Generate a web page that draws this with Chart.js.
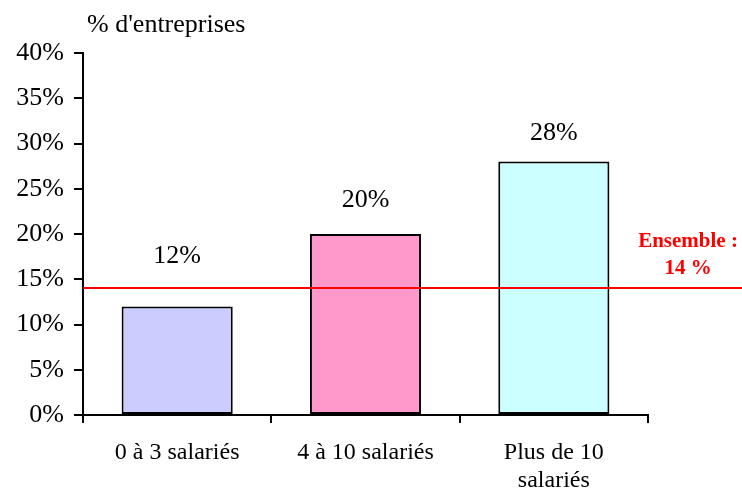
<!DOCTYPE html>
<html>
<head>
<meta charset="utf-8">
<script src="https://cdn.jsdelivr.net/npm/chart.js@4"></script>
<style>
  html,body{margin:0;padding:0;background:#fff;}
  #wrap{width:742px;height:490px;}
</style>
</head>
<body>
<div id="wrap"><canvas id="chart" width="742" height="490"></canvas></div>
<script>
// data
const categories = ['0 à 3 salariés', '4 à 10 salariés', ['Plus de 10', 'salariés']];
const values = [12, 20, 28];
const ensemble = 14;
const yTicks = [0, 5, 10, 15, 20, 25, 30, 35, 40];

// style
const barColors = ['#CCCCFF', '#FF99CC', '#CCFFFF'];
const labelOffsets = [50, 34, 28];
const serif = '"Liberation Serif", "Times New Roman", serif';

const overlay = {
  id: 'overlay',
  afterDatasetsDraw(chart){
    const {ctx, scales:{x, y}, chartArea} = chart;
    ctx.save();
    // axis title
    ctx.fillStyle = '#000';
    ctx.font = '26px ' + serif;
    ctx.textAlign = 'left';
    ctx.textBaseline = 'middle';
    ctx.fillText("% d'entreprises", 87, 25);
    // value labels
    ctx.textAlign = 'center';
    values.forEach((v, i) => {
      ctx.fillText(v + '%', x.getPixelForValue(i), y.getPixelForValue(v) - labelOffsets[i]);
    });
    // ensemble line
    const ly = Math.round(y.getPixelForValue(ensemble));
    ctx.strokeStyle = '#FF0000';
    ctx.lineWidth = 2;
    ctx.beginPath();
    ctx.moveTo(chartArea.left, ly);
    ctx.lineTo(chart.width, ly);
    ctx.stroke();
    ctx.fillStyle = '#FF0000';
    ctx.font = 'bold 21px ' + serif;
    ctx.fillText('Ensemble :', 688, 242);
    ctx.fillText(ensemble + ' %', 688, 269);
    ctx.restore();
  }
};

new Chart(document.getElementById('chart'), {
  type: 'bar',
  data: {
    labels: categories,
    datasets: [{
      data: values,
      backgroundColor: barColors,
      borderColor: '#000',
      borderWidth: 2,
      borderSkipped: false,
      categoryPercentage: 1,
      barPercentage: 0.59
    }]
  },
  options: {
    responsive: false,
    animation: false,
    events: [],
    layout: { padding: { top: 53, right: 94, left: 0, bottom: 0 } },
    plugins: { legend: { display: false }, tooltip: { enabled: false } },
    scales: {
      x: {
        grid: { drawOnChartArea: false, offset: true, tickLength: 8, color: '#000', lineWidth: 2 },
        border: { color: '#000', width: 2 },
        ticks: { color: '#000', font: { family: serif, size: 24 }, padding: 15, maxRotation: 0 },
        afterFit(s){ s.height = 75; }
      },
      y: {
        min: 0, max: 40,
        afterBuildTicks(s){ s.ticks = yTicks.map(v => ({ value: v })); },
        grid: { drawOnChartArea: false, tickLength: 9, color: '#000', lineWidth: 2 },
        border: { color: '#000', width: 2 },
        ticks: { color: '#000', font: { family: serif, size: 26 }, padding: 10, callback: v => v + '%' },
        afterFit(s){ s.width = 83; }
      }
    }
  },
  plugins: [overlay]
});
</script>
</body>
</html>
